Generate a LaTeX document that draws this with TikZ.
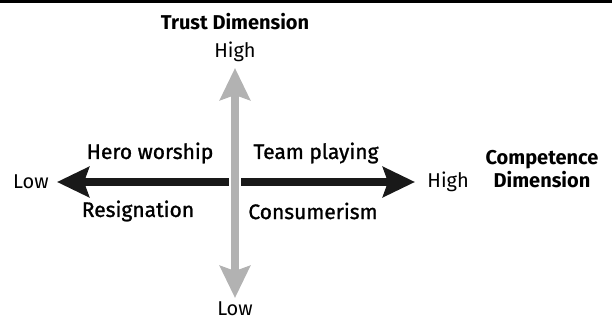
\documentclass[tikz,border=0pt]{standalone}
\usepackage{fontspec}
\setmainfont{Fira Sans}
\newfontfamily\quadfont{Fira Sans}[FakeBold=1.2]
\usetikzlibrary{positioning,arrows.meta}

\begin{document}
\begin{tikzpicture}[x=0.5pt,y=-0.5pt]
\tikzstyle{axis}=[line width=3.6pt, >={Stealth[length=16pt,width=15pt,inset=2.5pt]}, <->]
\tikzstyle{quad}=[font=\quadfont\fontsize{10.5}{12}\selectfont]
\tikzstyle{dim}=[font=\bfseries\fontsize{10}{11.5}\selectfont, align=center]
\tikzstyle{level}=[font=\fontsize{10}{12}\selectfont, inner sep=1.5pt]

\useasboundingbox (0,0) rectangle (612,321);
\fill[black] (0,0) rectangle (612,3);

% ends of the two axes
\coordinate (left) at (57,182);
\coordinate (right) at (415,182);
\coordinate (top) at (235,68);
\coordinate (bottom) at (235,298);

% competence axis, then trust axis over it
\draw[axis, black!90] (left) -- (right);
\draw[axis, gray!60, preaction={draw=white, line width=5.6pt}] (bottom) -- (top);

\node[level, above=1.5pt of top] (trusthigh) {High};
\node[level, below=0pt of bottom] (trustlow) {Low};
\node[level, left=2.5pt of left] (complow) {Low};
\node[level, right=4.5pt of right] (comphigh) {High};

\node[dim] (trust) at (235,22) {Trust Dimension};
\node[dim] (comp) at (542,169) {Competence\\Dimension};

\node[quad] (hero) at (150,153) {Hero worship};
\node[quad] (team) at (316,153) {Team playing};
\node[quad] (resign) at (138,211) {Resignation};
\node[quad] (consum) at (313,211) {Consumerism};
\end{tikzpicture}
\end{document}
